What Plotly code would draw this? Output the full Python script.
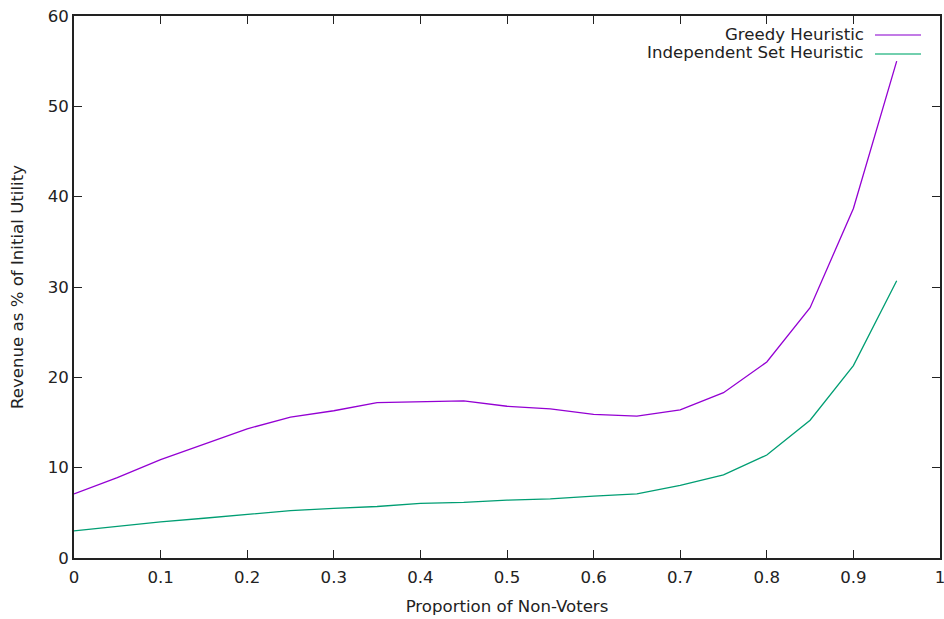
import plotly.graph_objects as go

x_vals = [0.0, 0.05, 0.1, 0.15, 0.2, 0.25, 0.3, 0.35, 0.4, 0.45,
          0.5, 0.55, 0.6, 0.65, 0.7, 0.75, 0.8, 0.85, 0.9, 0.95]
greedy = [7.1, 8.9, 10.9, 12.6, 14.3, 15.6, 16.3, 17.2, 17.3, 17.4,
          16.8, 16.5, 15.9, 15.7, 16.4, 18.3, 21.7, 27.7, 38.7, 55.0]
indep = [3.0, 3.5, 4.0, 4.4, 4.85, 5.25, 5.5, 5.7, 6.05, 6.15,
         6.4, 6.55, 6.85, 7.1, 8.05, 9.2, 11.4, 15.25, 21.3, 30.7]
series_names = ["Greedy Heuristic", "Independent Set Heuristic"]
colors = ["#9400D3", "#009E73"]
legend_colors = ["#c27be6", "#72cfae"]
x_ticks = [0, 0.1, 0.2, 0.3, 0.4, 0.5, 0.6, 0.7, 0.8, 0.9, 1]
x_tick_labels = ["0", "0.1", "0.2", "0.3", "0.4", "0.5", "0.6", "0.7", "0.8", "0.9", "1"]
y_ticks = [0, 10, 20, 30, 40, 50, 60]

FONT = "DejaVu Sans"
FS = 16.6
TXT = "#222"
W, H = 944, 619
L, R, T, B = 74, 4, 16, 61
PW = W - L - R
PH = H - T - B

fig = go.Figure()
for name, ys, c in zip(series_names, [greedy, indep], colors):
    fig.add_trace(go.Scatter(x=x_vals, y=ys, mode="lines", name=name,
                             line=dict(color=c, width=1.3), showlegend=False))

axis_common = dict(showline=True, linecolor="#222", linewidth=1.6, mirror="ticks",
                   ticks="inside", ticklen=8, tickcolor="#222", tickwidth=1.3,
                   showgrid=False, zeroline=False, automargin=False,
                   ticklabeloverflow="allow",
                   tickfont=dict(family=FONT, size=FS, color=TXT))

fig.update_layout(
    width=W, height=H,
    margin=dict(l=L, r=R, t=T, b=B),
    paper_bgcolor="white", plot_bgcolor="white",
    font=dict(family=FONT, size=FS, color=TXT),
    xaxis=dict(range=[0, 1], tickvals=x_ticks, ticktext=x_tick_labels,
               ticklabelstandoff=3,
               title=dict(text="Proportion of Non-Voters", standoff=15,
                          font=dict(family=FONT, size=FS, color=TXT)),
               **axis_common),
    yaxis=dict(range=[0, 60], tickvals=y_ticks,
               title=dict(text="Revenue as % of Initial Utility", standoff=20,
                          font=dict(family=FONT, size=FS, color=TXT)),
               **axis_common),
)

# gnuplot-style legend: text right-aligned, line sample on the right
row_y = [1 - (34 - T) / PH, 1 - (53 - T) / PH]
for name, c, yy in zip(series_names, legend_colors, row_y):
    fig.add_annotation(xref="paper", yref="paper", x=(866 - L) / PW, y=yy,
                       text=name, showarrow=False, xanchor="right", yanchor="middle",
                       font=dict(family=FONT, size=FS, color=TXT))
    fig.add_shape(type="line", xref="paper", yref="paper",
                  x0=(875 - L) / PW, x1=(921 - L) / PW, y0=yy - 1 / PH, y1=yy - 1 / PH,
                  line=dict(color=c, width=2))

fig.write_html("out.html", config={"displayModeBar": False},
               post_script="document.body.style.margin='0';")
